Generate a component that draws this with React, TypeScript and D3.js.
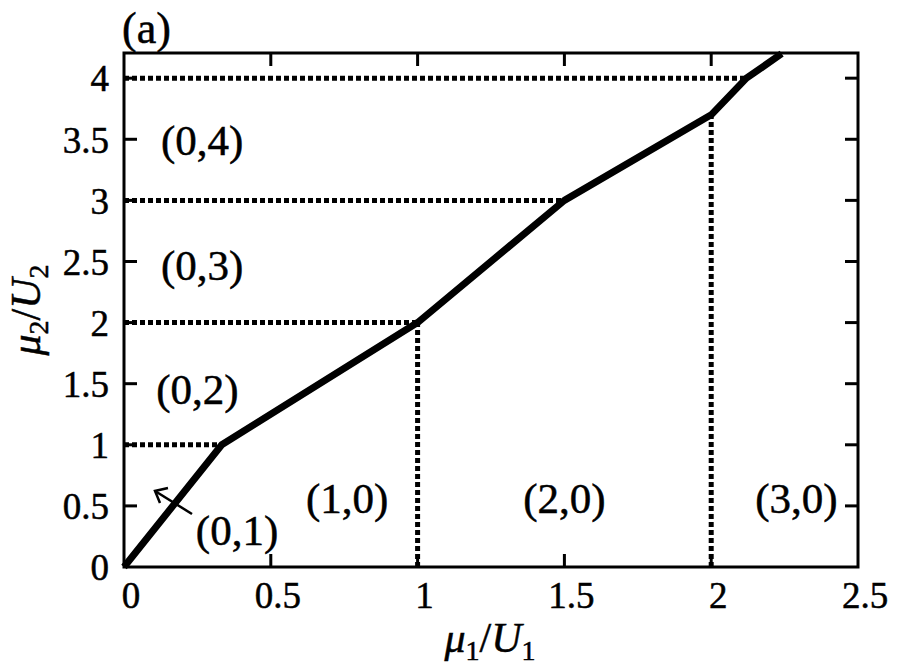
import React from "react";
import * as d3 from "d3";

const xTicks = [0, 0.5, 1, 1.5, 2, 2.5];
const yTicks = [0, 0.5, 1, 1.5, 2, 2.5, 3, 3.5, 4];
const boundaryX = [0, 0.333, 1, 1.5, 2, 2.12, 2.24];
const boundaryY = [0, 1, 2, 3, 3.7, 4, 4.2];
// horizontal dotted: level and end x
const hLevels = [1, 2, 3, 4];
const hEnds = [0.333, 1, 1.5, 2.12];
// vertical dotted: x and top y
const vXs = [1, 2];
const vTops = [2, 3.7];
const regionNames = ["(0,4)", "(0,3)", "(0,2)", "(0,1)", "(1,0)", "(2,0)", "(3,0)"];
const regionX = [0.266, 0.266, 0.25, 0.385, 0.76, 1.5, 2.29];
const regionY = [3.49, 2.47, 1.45, 0.3, 0.56, 0.56, 0.56];

const W = 900, H = 671;
const L = 124, R = 858, T = 53, B = 567;
const FONT = "'Liberation Serif', 'Times New Roman', serif";

export default function App() {
  const x = d3.scaleLinear().domain([0, 2.5]).range([L, R]);
  const y = d3.scaleLinear().domain([0, 4.206]).range([B, T]);
  const line = d3.line<number>().x((_, i) => x(boundaryX[i])).y((d) => y(d));
  const tk = 13;
  const txt = { fontFamily: FONT, fill: "#000", stroke: "#000", strokeWidth: 0.5 };
  return (
    <svg width={W} height={H} style={{ position: "absolute", left: 0, top: 0, background: "#fff" }}>
      <rect x={0} y={0} width={W} height={H} fill="#fff" />
      {/* dotted lines */}
      {hLevels.map((lv, i) => (
        <line key={"h" + i} x1={x(0)} x2={x(hEnds[i])} y1={y(lv)} y2={y(lv)}
          stroke="#000" strokeWidth={5} strokeDasharray="5,3" />
      ))}
      {vXs.map((vx, i) => (
        <line key={"v" + i} x1={x(vx)} x2={x(vx)} y1={y(0)} y2={y(vTops[i])}
          stroke="#000" strokeWidth={5} strokeDasharray="5,3" />
      ))}
      {/* boundary curve */}
      <path d={line(boundaryY) || ""} fill="none" stroke="#000" strokeWidth={7} strokeLinejoin="round" />
      {/* frame */}
      <rect x={L} y={T} width={R - L} height={B - T} fill="none" stroke="#000" strokeWidth={3} />
      {/* ticks */}
      {xTicks.map((t, i) => (
        <g key={"xt" + i}>
          {i > 0 && i < xTicks.length - 1 && (
            <>
              <line x1={x(t)} x2={x(t)} y1={B} y2={B - tk} stroke="#000" strokeWidth={3} />
              <line x1={x(t)} x2={x(t)} y1={T} y2={T + tk} stroke="#000" strokeWidth={3} />
            </>
          )}
          <text x={x(t) + 7} y={608} textAnchor="middle" fontSize={37} {...txt}>{t}</text>
        </g>
      ))}
      {yTicks.map((t, i) => (
        <g key={"yt" + i}>
          {i > 0 && (
            <>
              <line x1={L} x2={L + tk} y1={y(t)} y2={y(t)} stroke="#000" strokeWidth={3} />
              <line x1={R} x2={R - tk} y1={y(t)} y2={y(t)} stroke="#000" strokeWidth={3} />
            </>
          )}
          <text x={109} y={y(t)} dy="0.36em" textAnchor="end" fontSize={37} {...txt}>{t}</text>
        </g>
      ))}
      {/* region labels */}
      {regionNames.map((n, i) => (
        <text key={"r" + i} x={x(regionX[i])} y={y(regionY[i])} dy="0.34em" textAnchor="middle"
          fontSize={43} {...txt}>{n}</text>
      ))}
      {/* arrow */}
      <line x1={192} y1={514} x2={155} y2={491} stroke="#000" strokeWidth={2.5} />
      <polyline points="168,488 155,491 160,503" fill="none" stroke="#000" strokeWidth={2.5} />
      {/* panel label */}
      <text x={122} y={43} fontSize={44} {...txt}>(a)</text>
      {/* axis labels */}
      <text x={490} y={652} textAnchor="middle" fontSize={42} {...txt}>
        <tspan fontStyle="italic">μ</tspan>
        <tspan fontSize={28} dy={8}>1</tspan>
        <tspan dy={-8}>/</tspan>
        <tspan fontStyle="italic">U</tspan>
        <tspan fontSize={28} dy={8}>1</tspan>
      </text>
      <text transform={`translate(40,${(T + B) / 2}) rotate(-90)`} textAnchor="middle" fontSize={42} {...txt}>
        <tspan fontStyle="italic">μ</tspan>
        <tspan fontSize={28} dy={8}>2</tspan>
        <tspan dy={-8}>/</tspan>
        <tspan fontStyle="italic">U</tspan>
        <tspan fontSize={28} dy={8}>2</tspan>
      </text>
    </svg>
  );
}
